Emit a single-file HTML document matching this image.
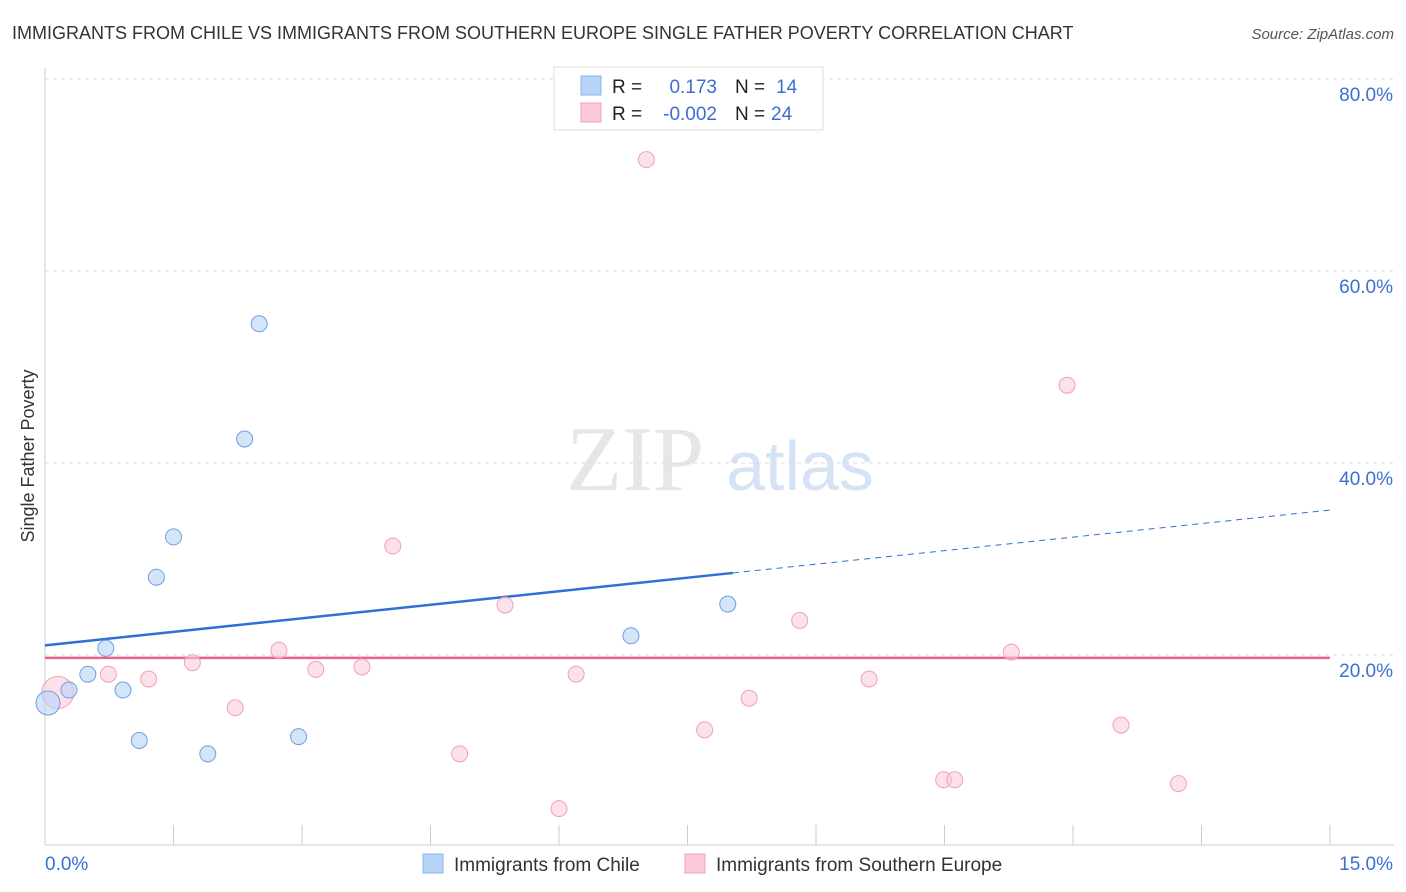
<!DOCTYPE html>
<html><head><meta charset="utf-8"><style>
body{margin:0;background:#fff;font-family:"Liberation Sans",sans-serif;}
svg{display:block}
</style></head><body>
<svg id="chart" width="1406" height="892">
<text x="12" y="39" font-size="18" fill="#333">IMMIGRANTS FROM CHILE VS IMMIGRANTS FROM SOUTHERN EUROPE SINGLE FATHER POVERTY CORRELATION CHART</text>
<text x="1394" y="39" font-size="15" fill="#555" font-style="italic" text-anchor="end">Source: ZipAtlas.com</text>
<text x="0" y="0" transform="translate(34,456) rotate(-90)" font-size="18" fill="#333" text-anchor="middle">Single Father Poverty</text>
<g>
<text x="635" y="490" font-size="92" fill="#e6e6e6" font-family="Liberation Serif,serif" text-anchor="middle">ZIP</text>
<text x="800" y="490" font-size="70" fill="#d5e3f5" text-anchor="middle">atlas</text>
</g>
<g id="grid"></g><g id="axes"></g><g id="trend"></g><g id="points"></g>
<g>
<rect x="554" y="67" width="269" height="63" fill="#fff" stroke="#ddd"/>
<rect x="581" y="76" width="20" height="19" fill="#b7d3f6" stroke="#8ab4ec"/>
<rect x="581" y="103" width="20" height="19" fill="#fbc9d8" stroke="#f1a0b8"/>
<text x="612" y="93" font-size="19" fill="#222">R =</text>
<text x="717" y="93" font-size="19" fill="#3a6fd0" text-anchor="end">0.173</text>
<text x="735" y="93" font-size="19" fill="#222">N =</text>
<text x="776" y="93" font-size="19" fill="#3a6fd0">14</text>
<text x="612" y="120" font-size="19" fill="#222">R =</text>
<text x="717" y="120" font-size="19" fill="#3a6fd0" text-anchor="end">-0.002</text>
<text x="735" y="120" font-size="19" fill="#222">N =</text>
<text x="771" y="120" font-size="19" fill="#3a6fd0">24</text>
</g>
<g>
<rect x="423" y="854" width="20" height="19" fill="#b7d3f6" stroke="#8ab4ec"/>
<text x="454" y="871" font-size="19" fill="#333">Immigrants from Chile</text>
<rect x="685" y="854" width="20" height="19" fill="#fbc9d8" stroke="#f1a0b8"/>
<text x="716" y="871" font-size="19" fill="#333">Immigrants from Southern Europe</text>
</g>
</svg>
<script>
const chileX=[0.035,0.28,0.5,0.71,0.91,1.1,1.3,1.5,1.9,2.33,2.5,2.96,6.84,7.97];
const chileY=[15.0,16.35,18.0,20.7,16.35,11.1,28.1,32.3,9.7,42.5,54.5,11.5,22.0,25.3];
const chileR=[12,8,8,8,8,8,8,8,8,8,8,8,8,8];
const seX=[0.15,0.74,1.21,1.72,2.22,2.73,3.16,3.7,4.06,4.84,5.37,6.0,6.2,7.02,7.7,8.22,8.81,9.62,10.49,10.62,11.28,11.93,12.56,13.23];
const seY=[16.1,18.0,17.5,19.2,14.5,20.5,18.5,18.75,31.35,9.7,25.2,4.0,18.0,71.6,12.2,15.5,23.6,17.5,7.0,7.0,20.3,48.1,12.7,6.6];
const seR=[16,8,8,8,8,8,8,8,8,8,8,8,8,8,8,8,8,8,8,8,8,8,8,8];
const yTicks=[20,40,60,80];
const yTickLabels=["20.0%","40.0%","60.0%","80.0%"];
const chileTrend=[21.0,0.94]; // intercept, slope
const chileTrendEnd=8.03;
const seTrend=[19.7,0];
const NS='http://www.w3.org/2000/svg';
const X=v=>45+v/15*1285, Y=v=>847-v*9.6;
function mk(p,t,a){const e=document.createElementNS(NS,t);for(const k in a)e.setAttribute(k,a[k]);document.getElementById(p).appendChild(e);return e;}
yTicks.forEach((t,i)=>{
 const l=mk('grid','line',{x1:45,x2:1394,y1:Y(t),y2:Y(t),stroke:'#ddd','stroke-dasharray':'4,4'});
 
 
 const tx=mk('grid','text',{x:1393,y:Y(t)+22,'font-size':19,fill:'#3a6fd0','text-anchor':'end'});
 tx.textContent=yTickLabels[i];
 
 
});
let a=mk('axes','line',{x1:45,x2:45,y1:68,y2:845,stroke:'#ccc'});


a=mk('axes','line',{x1:45,x2:1394,y1:845,y2:845,stroke:'#ccc'});


for(let k=0;k<=10;k++){const t=mk('axes','line',{x1:X(k*1.5),x2:X(k*1.5),y1:825,y2:845,stroke:'#ccc'});
 
 }
let xl=mk('axes','text',{x:45,y:870,'font-size':19,fill:'#3a6fd0'});xl.textContent='0.0%';


xl=mk('axes','text',{x:1393,y:870,'font-size':19,fill:'#3a6fd0','text-anchor':'end'});xl.textContent='15.0%';


const cy=v=>chileTrend[0]+chileTrend[1]*v;
let tl=mk('trend','line',{x1:X(0),y1:Y(cy(0)),x2:X(chileTrendEnd),y2:Y(cy(chileTrendEnd)),stroke:'#2f6fd6','stroke-width':2.5});


tl=mk('trend','line',{x1:X(chileTrendEnd),y1:Y(cy(chileTrendEnd)),x2:X(15),y2:Y(cy(15)),stroke:'#2f6fd6','stroke-width':1,'stroke-dasharray':'6,5'});


tl=mk('trend','line',{x1:X(0),y1:Y(seTrend[0]),x2:X(15),y2:Y(seTrend[0]+seTrend[1]*15),stroke:'#e8628a','stroke-width':2.5});


seX.forEach((x,i)=>{const c=mk('points','circle',{cx:X(x),cy:Y(seY[i]),r:seR[i],fill:'rgba(251,201,216,0.55)',stroke:'#f1a0b8','stroke-width':1});
 
 });
chileX.forEach((x,i)=>{const c=mk('points','circle',{cx:X(x),cy:Y(chileY[i]),r:chileR[i],fill:'rgba(183,211,246,0.6)',stroke:'#6f9fe0','stroke-width':1});
 
 });
</script>
</body></html>
